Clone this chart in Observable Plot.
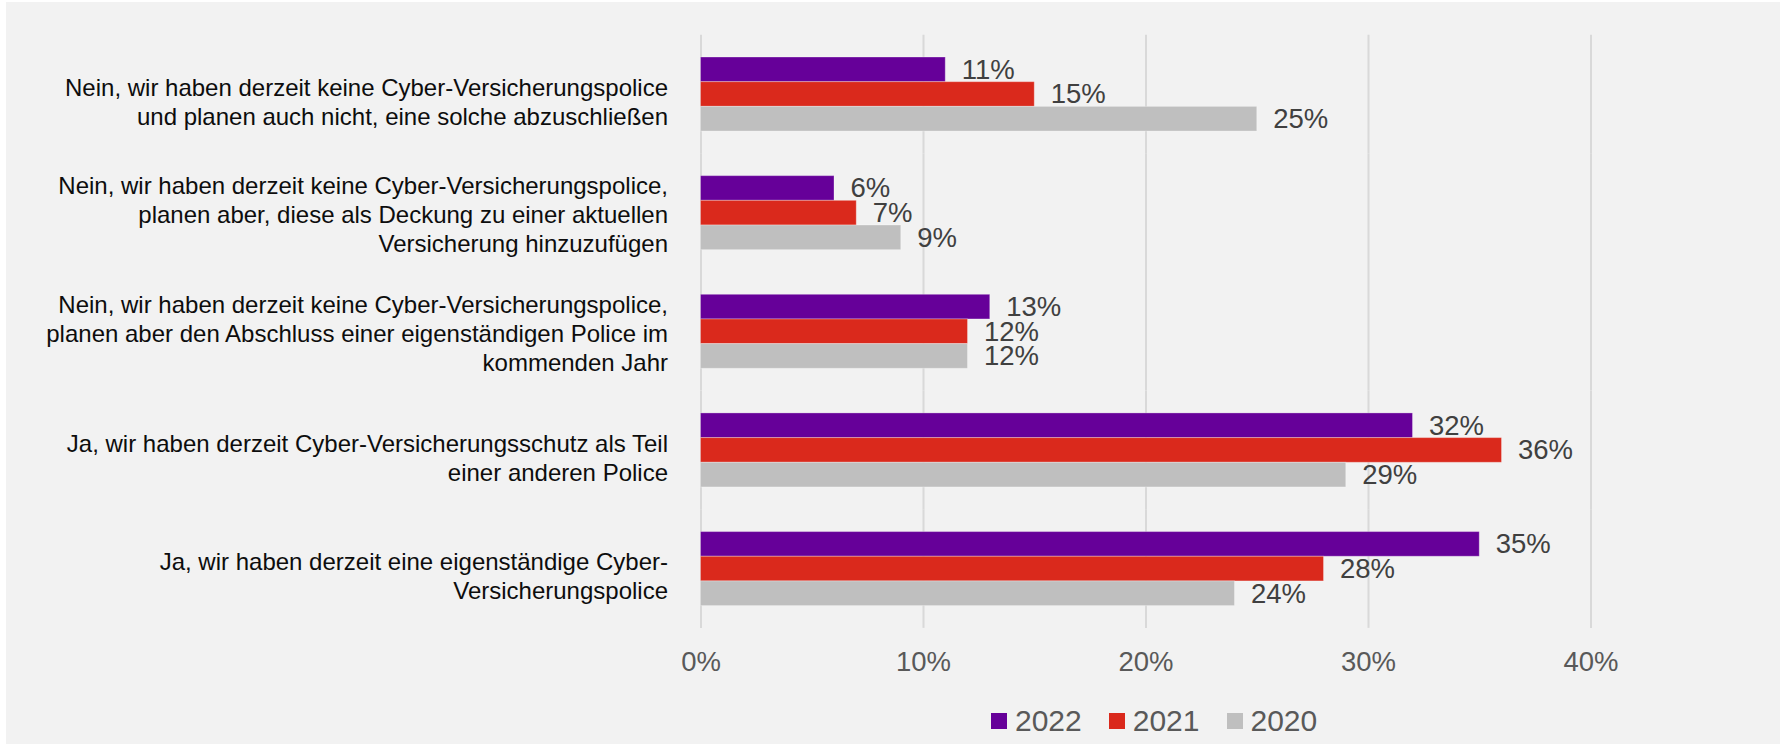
<!DOCTYPE html>
<html><head><meta charset="utf-8">
<script src="https://cdn.jsdelivr.net/npm/d3@7"></script>
<script src="https://cdn.jsdelivr.net/npm/@observablehq/plot@0.6"></script>
<style>
html,body{margin:0;padding:0;background:#fff;width:1781px;height:744px;overflow:hidden;font-family:"Liberation Sans",Arial,sans-serif;}
#bg{position:absolute;left:6px;top:2px;width:1774px;height:742px;background:#f2f2f2;}
#chart{position:absolute;left:0;top:0;}
#legend{position:absolute;left:991px;top:706px;height:30px;display:flex;align-items:center;font-size:30px;line-height:30px;color:#595959;}
.item{display:flex;align-items:center;margin-right:27px;}
.sw{width:16px;height:16px;margin-right:8px;}
</style></head><body>
<div id="bg"></div><div id="chart"></div><div id="legend"></div>
<script>
const categories = [
  "Nein, wir haben derzeit keine Cyber-Versicherungspolice\nund planen auch nicht, eine solche abzuschließen",
  "Nein, wir haben derzeit keine Cyber-Versicherungspolice,\nplanen aber, diese als Deckung zu einer aktuellen\nVersicherung hinzuzufügen",
  "Nein, wir haben derzeit keine Cyber-Versicherungspolice,\nplanen aber den Abschluss einer eigenständigen Police im\nkommenden Jahr",
  "Ja, wir haben derzeit Cyber-Versicherungsschutz als Teil\neiner anderen Police",
  "Ja, wir haben derzeit eine eigenständige Cyber-\nVersicherungspolice"
];
const years = ["2022", "2021", "2020"];
const values2022 = [11, 6, 13, 32, 35];
const values2021 = [15, 7, 12, 36, 28];
const values2020 = [25, 9, 12, 29, 24];
const colors = ["#660099", "#da291c", "#bfbfbf"];
const xTicks = [0, 10, 20, 30, 40];

const series = [values2022, values2021, values2020];
const data = [];
categories.forEach((c, i) => {
  years.forEach((y, j) => data.push({category: c, year: y, value: series[j][i]}));
});

const fmt = d => d + "%";
const twoLine = categories.filter(c => c.split("\n").length === 2);
const threeLine = categories.filter(c => c.split("\n").length === 3);

const chart = Plot.plot({
  width: 1781,
  height: 700,
  marginLeft: 700.5,
  marginRight: 190.5,
  marginTop: 34.7,
  marginBottom: 72.1,
  style: {background: "transparent", fontFamily: "'Liberation Sans', Arial, sans-serif", overflow: "visible"},
  x: {domain: [0, 40], axis: null},
  y: {domain: years, axis: null, padding: 0, round: false},
  fy: {domain: categories, axis: null, paddingInner: 0.376, paddingOuter: 0.188, round: false},
  color: {domain: years, range: colors},
  marks: [
    Plot.ruleX(xTicks, {x: d => d, stroke: "#d9d9d9", strokeWidth: 2, insetTop: -22.3, insetBottom: -22.3}),
    Plot.barX(data, {fy: "category", y: "year", x: "value", fill: "year", stroke: "#ffffff", strokeOpacity: 0.3, strokeWidth: 1}),
    Plot.text(data, {fy: "category", y: "year", x: "value", text: d => fmt(d.value), textAnchor: "start", dx: 16, fontSize: 27.5, fill: "#404040"}),
    Plot.axisX(xTicks, {anchor: "bottom", tickSize: 0, tickPadding: 45.6, tickFormat: fmt, fontSize: 27.5, fill: "#595959", label: null}),
    Plot.axisFy({ticks: twoLine, anchor: "left", tickSize: 0, tickPadding: 33, fontSize: 24, lineHeight: 1.208, fill: "#0d0d0d", label: null, dy: 6.5}),
    Plot.axisFy({ticks: threeLine, anchor: "left", tickSize: 0, tickPadding: 33, fontSize: 24, lineHeight: 1.208, fill: "#0d0d0d", label: null, dy: 1})
  ]
});
document.getElementById("chart").appendChild(chart);

const legend = document.getElementById("legend");
years.forEach((y, j) => {
  const item = document.createElement("div");
  item.className = "item";
  const sw = document.createElement("div");
  sw.className = "sw";
  sw.style.background = colors[j];
  const t = document.createElement("span");
  t.textContent = y;
  item.appendChild(sw); item.appendChild(t);
  legend.appendChild(item);
});
</script>
</body></html>
